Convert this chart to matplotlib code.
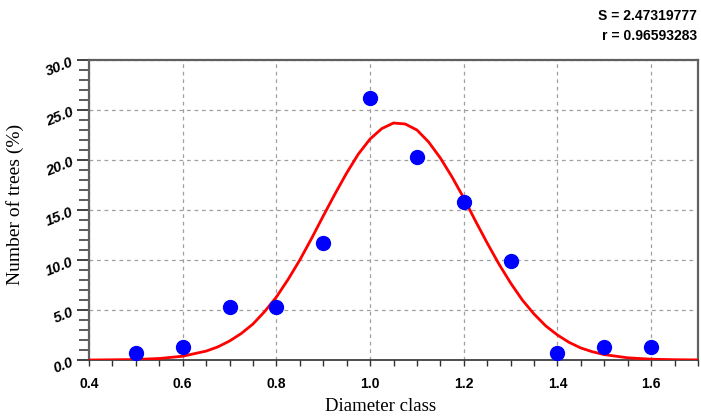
import matplotlib
matplotlib.use("Agg")
import matplotlib.pyplot as plt
from matplotlib.ticker import MultipleLocator, FormatStrFormatter

# Observed data
diameter_class = [0.5, 0.6, 0.7, 0.8, 0.9, 1.0, 1.1, 1.2, 1.3, 1.4, 1.5, 1.6]
pct_trees = [0.7, 1.3, 5.3, 5.3, 11.7, 26.2, 20.3, 15.8, 9.9, 0.7, 1.3, 1.3]

# Fitted curve
curve_x = [0.40, 0.45, 0.50, 0.55, 0.60, 0.65, 0.675, 0.70, 0.725, 0.75, 0.775,
           0.80, 0.825, 0.85, 0.875, 0.90, 0.925, 0.95, 0.975, 1.00, 1.025,
           1.05, 1.075, 1.10, 1.125, 1.15, 1.175, 1.20, 1.225, 1.25, 1.275,
           1.30, 1.325, 1.35, 1.375, 1.40, 1.425, 1.45, 1.475, 1.50, 1.55,
           1.60, 1.65, 1.70]
curve_y = [0.0, 0.02, 0.05, 0.15, 0.38, 0.89, 1.31, 1.9, 2.65, 3.6, 4.85,
           6.3, 8.06, 10.0, 12.15, 14.4, 16.6, 18.7, 20.6, 22.1, 23.14,
           23.7, 23.6, 23.0, 21.8, 20.2, 18.3, 16.2, 13.9, 11.7, 9.6,
           7.7, 6.0, 4.6, 3.41, 2.5, 1.76, 1.2, 0.82, 0.54, 0.22,
           0.08, 0.03, 0.01]

stats_text = ["S = 2.47319777", "r = 0.96593283"]

fig = plt.figure(figsize=(7.01, 4.19), dpi=100)
ax = fig.add_axes([0.127, 0.1408, 0.8687, 0.716])

ax.plot(curve_x, curve_y, color="#ff0000", lw=2.0, zorder=3)
ax.plot(diameter_class, pct_trees, "o", color="#0000ff", ms=10, zorder=4)

ax.set_xlim(0.4, 1.7)
ax.set_ylim(0, 30)
ax.xaxis.set_major_locator(MultipleLocator(0.2))
ax.xaxis.set_minor_locator(MultipleLocator(0.05))
ax.yaxis.set_major_locator(MultipleLocator(5))
ax.yaxis.set_minor_locator(MultipleLocator(1))
ax.xaxis.set_major_formatter(FormatStrFormatter("%.1f"))
ax.yaxis.set_major_formatter(FormatStrFormatter("%.1f"))

ax.grid(True, which="major", linestyle=(0, (3, 3)), color="#a0a0a0", lw=0.9)
ax.set_axisbelow(True)

for s in ["left", "top", "right"]:
    ax.spines[s].set_color("#606060")
    ax.spines[s].set_linewidth(1.6)
ax.spines["bottom"].set_color("#303030")
ax.spines["bottom"].set_linewidth(1.2)

ax.tick_params(axis="y", which="major", length=9, width=1.4, color="#404040", pad=3)
ax.tick_params(axis="y", which="minor", length=7, width=1.2, color="#404040")
ax.tick_params(axis="x", which="both", length=4, width=1.0, color="#303030", pad=8)

for lab in ax.get_yticklabels():
    lab.set_fontfamily("Liberation Sans")
    lab.set_fontweight("bold")
    lab.set_fontstyle("italic")
    lab.set_fontsize(10.5)
    lab.set_rotation(22)
    lab.set_rotation_mode("anchor")
for lab in ax.get_xticklabels():
    lab.set_fontfamily("Liberation Sans")
    lab.set_fontweight("bold")
    lab.set_fontsize(10)

ax.set_xlabel("Diameter class", fontfamily="Liberation Serif", fontsize=13.5, labelpad=8)
ax.xaxis.set_label_coords(0.478, -0.128)
ax.set_ylabel("Number of trees (%)", fontfamily="Liberation Serif", fontsize=14, labelpad=12)
ax.yaxis.set_label_coords(-0.106, 0.52)

fig.text(0.994, 0.962, stats_text[0], ha="right", va="center",
         fontfamily="Liberation Sans", fontweight="bold", fontsize=10)
fig.text(0.994, 0.915, stats_text[1], ha="right", va="center",
         fontfamily="Liberation Sans", fontweight="bold", fontsize=10)

fig.savefig("out.png", dpi=100)
